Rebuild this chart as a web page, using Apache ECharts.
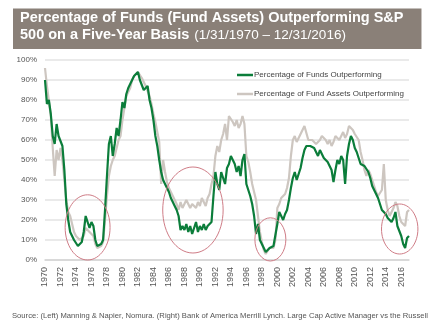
<!DOCTYPE html>
<html>
<head>
<meta charset="utf-8">
<script src="https://cdn.jsdelivr.net/npm/echarts@6/dist/echarts.min.js"></script>
<style>
html,body{margin:0;padding:0;background:#fff;}
#c{width:430px;height:327px;}
</style>
</head>
<body>
<div id="c"></div>
<script>
// Quarterly samples starting Jan 1970
const startYear = 1970;
const stepYears = 0.25;

const fundsPct = [
  90, 78, 80, 73,   62, 58, 68, 62,   61, 57, 45, 28,   20, 14, 15, 10,
  9, 7, 7, 9,       14, 22, 19, 16,   19, 17, 10, 7,    6, 8, 10, 25,
  42, 58, 62, 52,   58, 66, 62, 70,   79, 76, 83, 86,   88, 89, 92, 91,
  94, 90, 89, 85,   84, 87, 80, 76,   70, 62, 57, 50,   44, 40, 38, 36,
  34, 31, 29, 27,   25, 22, 15, 17,   15, 18, 14, 17,   13, 16, 19, 14,
  17, 15, 18, 15,   17, 16, 19, 32,   44, 38, 35, 44,   44, 38, 46, 48,
  52, 50, 48, 44,   47, 42, 50, 53,   38, 39, 32, 28,   22, 13, 18, 10,
  8, 6, 4, 5,       6, 5, 7, 8,       18, 24, 22, 20,   23, 25, 30, 36,
  41, 44, 40, 43,   46, 51, 55, 57,   58, 57, 57, 56,   54, 52, 55, 54,
  51, 52, 49, 47,   45, 39, 45, 50,   48, 52, 50, 38,   52, 58, 62, 60,
  56, 54, 51, 48,   47, 47, 46, 44,   41, 37, 35, 33,   31, 28, 25, 25,
  23, 21, 20, 19,   21, 24, 17, 16,   12, 8, 6, 11,     12
];

const assetsPct = [
  96, 87, 86, 72,   56, 42, 55, 50,   56, 50, 40, 30,   24, 22, 18, 14,
  12, 11, 10, 9,    12, 16, 17, 14,   13, 12, 8, 6,     5, 7, 9, 20,
  32, 42, 47, 50,   52, 56, 60, 62,   70, 76, 82, 84,   86, 90, 92, 92,
  94, 93, 91, 89,   87, 86, 82, 78,   73, 69, 64, 59,   38, 50, 44, 39,
  36, 34, 32, 30,   28, 25, 29, 26,   27, 30, 31, 26,   28, 29, 26, 29,
  27, 31, 29, 27,   31, 33, 38, 42,   52, 57, 54, 60,   63, 68, 60, 72,
  71, 69, 67, 70,   66, 68, 72, 68,   52, 49, 44, 38,   34, 30, 22, 14,
  9, 5, 3, 4,       6, 5, 6, 10,      26, 28, 31, 30,   33, 36, 41, 52,
  60, 62, 59, 61,   62, 65, 67, 67,   60, 59, 60, 59,   58, 59, 60, 62,
  63, 60, 58, 60,   57, 59, 62, 61,   60, 62, 64, 61,   63, 67, 66, 65,
  63, 63, 60, 54,   50, 45, 42, 45,   43, 40, 37, 34,   32, 33, 35, 48,
  30, 25, 22, 24,   26, 29, 27, 22,   19, 20, 17, 24,   25
];

const seriesNames = ['Percentage of Funds Outperforming', 'Percentage of Fund Assets Outperforming'];
const yTickPct = [0, 10, 20, 30, 40, 50, 60, 70, 80, 90, 100];
const xTickYears = [1970, 1972, 1974, 1976, 1978, 1980, 1982, 1984, 1986, 1988, 1990, 1992,
  1994, 1996, 1998, 2000, 2002, 2004, 2006, 2008, 2010, 2012, 2014, 2016];

// annotation ellipses: center year, center pct, half-width (years), half-height (pct)
const ringYear = [1975.5, 1989.1, 1999.1, 2015.8];
const ringPct = [16.3, 25, 10.3, 15.5];
const ringHalfYears = [2.9, 3.9, 2.0, 2.35];
const ringHalfPct = [16.3, 21.5, 10.8, 12.5];

const titleLine1 = 'Percentage of Funds (Fund Assets) Outperforming S&P';
const titleLine2a = '500 on a Five-Year Basis';
const titleLine2b = '(1/31/1970 \u2013 12/31/2016)';
const sourceText = 'Source: (Left) Manning & Napier, Nomura. (Right) Bank of America Merrill Lynch. Large Cap Active Manager vs the Russell 1000';

const toPairs = arr => arr.map((v, i) => [startYear + i * stepYears, v]);

const chart = echarts.init(document.getElementById('c'), null, {renderer: 'canvas'});
const FONT = 'Liberation Sans, Arial, sans-serif';

chart.setOption({
  animation: false,
  backgroundColor: '#ffffff',
  title: [{
    text: '{b|' + titleLine1 + '}\n{b|' + titleLine2a + '} {n|' + titleLine2b + '}',
    left: 13, top: 8,
    backgroundColor: '#8a8078',
    padding: [2, 18, 5, 7],
    textStyle: {
      rich: {
        b: {fontFamily: FONT, fontWeight: 'bold', fontSize: 14.5, color: '#ffffff', lineHeight: 16},
        n: {fontFamily: FONT, fontWeight: 'normal', fontSize: 13.5, color: '#ffffff', lineHeight: 16}
      }
    }
  }, {
    text: sourceText,
    left: 12, top: 312,
    padding: 0,
    textStyle: {fontFamily: FONT, fontSize: 7.65, fontWeight: 'normal', color: '#555555'}
  }],
  legend: {
    data: seriesNames,
    orient: 'vertical',
    left: 232, top: 66,
    itemWidth: 16, itemHeight: 2.5,
    itemGap: 11,
    icon: 'rect',
    textStyle: {fontFamily: FONT, fontSize: 8, color: '#444444', padding: [0, 0, 0, -4]}
  },
  grid: {left: 45, right: 21, top: 60, bottom: 67, containLabel: false},
  xAxis: {
    type: 'value', min: 1970, max: 2017, interval: 2,
    axisLine: {show: true, lineStyle: {color: '#d4d4d4', width: 1.5}},
    axisTick: {show: false},
    splitLine: {show: false},
    axisLabel: {
      rotate: 90, margin: 7, fontFamily: FONT, fontSize: 9, color: '#555555',
      showMaxLabel: false,
      formatter: v => xTickYears.indexOf(v) >= 0 ? String(v) : ''
    }
  },
  yAxis: {
    type: 'value', min: 0, max: 100, interval: 10,
    axisLine: {show: false},
    axisTick: {show: false},
    splitLine: {lineStyle: {color: '#e3e3e3', width: 1.5}},
    axisLabel: {
      margin: 8, fontFamily: FONT, fontSize: 8, color: '#555555',
      formatter: v => yTickPct.indexOf(v) >= 0 ? v + '%' : ''
    }
  },
  series: [{
    name: seriesNames[1], type: 'line', data: toPairs(assetsPct),
    symbol: 'none', lineStyle: {color: '#cdc6c0', width: 2.2}, itemStyle: {color: '#cdc6c0'}, z: 2
  }, {
    name: seriesNames[0], type: 'line', data: toPairs(fundsPct),
    symbol: 'none', lineStyle: {color: '#0b7d3a', width: 2.2}, itemStyle: {color: '#0b7d3a'}, z: 3
  }]
});

function drawRings() {
  const els = ringYear.map((yr, i) => {
    const c = chart.convertToPixel({gridIndex: 0}, [yr, ringPct[i]]);
    const e = chart.convertToPixel({gridIndex: 0}, [yr + ringHalfYears[i], ringPct[i] + ringHalfPct[i]]);
    return {
      type: 'ellipse', silent: true, z: 10,
      shape: {cx: c[0], cy: c[1], rx: Math.abs(e[0] - c[0]), ry: Math.abs(c[1] - e[1])},
      style: {fill: 'none', stroke: '#cf7c86', lineWidth: 1}
    };
  });
  chart.setOption({graphic: els});
}
drawRings();
</script>
</body>
</html>
